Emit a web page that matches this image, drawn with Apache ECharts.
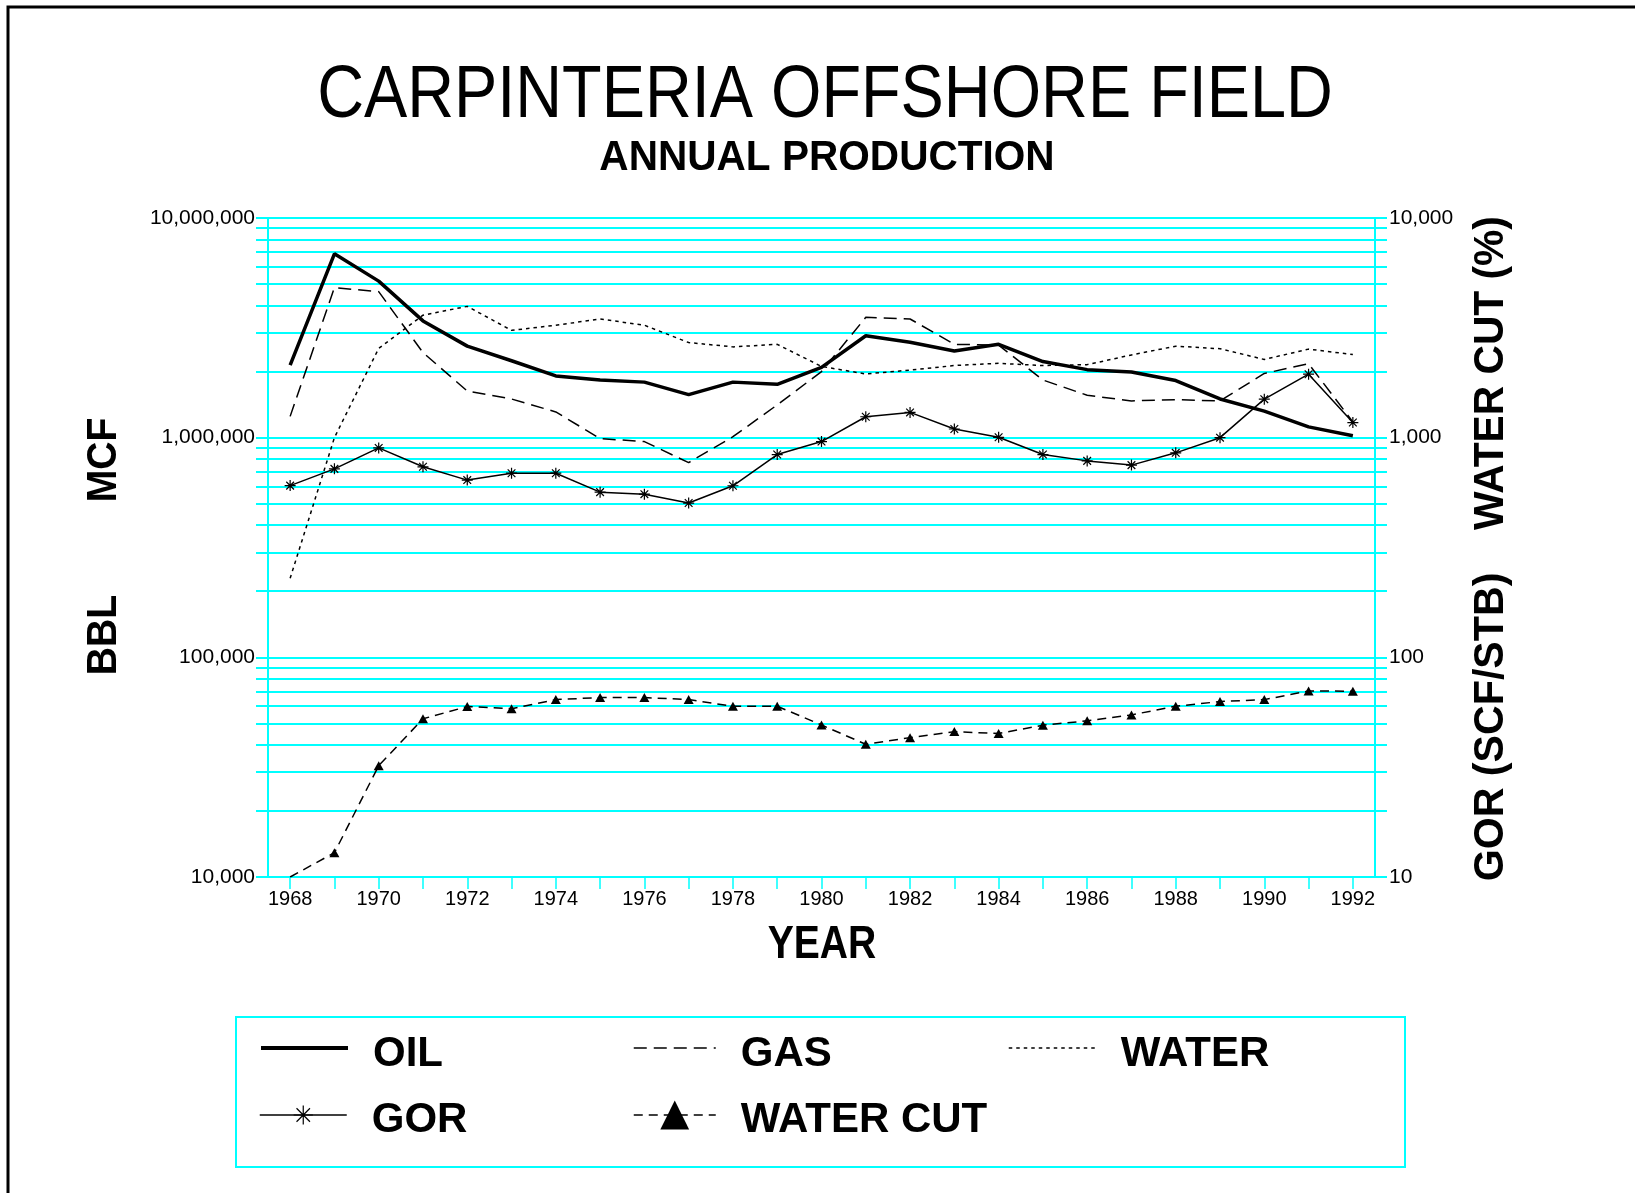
<!DOCTYPE html>
<html>
<head>
<meta charset="utf-8">
<script src="https://cdn.jsdelivr.net/npm/echarts@6/dist/echarts.min.js"></script>
<style>
html,body{margin:0;padding:0;background:#fff;}
#chart{width:1635px;height:1193px;}
</style>
</head>
<body>
<div id="chart"></div>
<script>
// ---- data ----
const years = ['1968','1969','1970','1971','1972','1973','1974','1975','1976','1977','1978','1979','1980',
               '1981','1982','1983','1984','1985','1986','1987','1988','1989','1990','1991','1992'];
// BBL
const oil = [2140000, 6870000, 5160000, 3400000, 2610000, 2240000, 1910000, 1830000, 1790000, 1570000, 1790000, 1750000, 2090000,
             2910000, 2720000, 2480000, 2660000, 2220000, 2040000, 1990000, 1820000, 1500000, 1320000, 1120000, 1020000];
// MCF
const gas = [1250000, 4820000, 4620000, 2440000, 1630000, 1500000, 1310000, 990000, 960000, 770000, 1010000, 1410000, 2000000,
             3530000, 3470000, 2660000, 2640000, 1830000, 1560000, 1470000, 1490000, 1470000, 1960000, 2170000, 1180000];
// BBL
const water = [229000, 1000000, 2550000, 3610000, 3960000, 3080000, 3250000, 3470000, 3250000, 2710000, 2590000, 2660000, 2110000,
               1950000, 2030000, 2130000, 2180000, 2130000, 2150000, 2380000, 2610000, 2540000, 2270000, 2530000, 2390000];
// SCF/STB
const gor = [605, 721, 898, 737, 641, 689, 689, 565, 553, 504, 604, 838, 960,
             1245, 1303, 1095, 1004, 838, 784, 750, 853, 1000, 1497, 1945, 1172];
// %
const waterCut = [10.0, 12.9, 32.1, 52.5, 59.7, 58.4, 64.2, 65.6, 65.6, 64.2, 59.9, 59.9, 49.2,
                  40.2, 43.1, 45.9, 45.0, 49.1, 51.4, 54.7, 59.9, 62.9, 64.2, 70.3, 70.1];
const leftLabels = [10000, 100000, 1000000, 10000000];
const rightLabels = [10, 100, 1000, 10000];

// ---- helpers ----
function logGrid(lo, hi) {
  const out = [];
  for (let d = lo; d < hi; d *= 10) for (let m = 1; m <= 9; m++) out.push(d * m);
  out.push(hi);
  return out;
}
const fmt = v => Math.round(v).toLocaleString('en-US');
const CYAN = '#00FFFF';
const FONT = '"Liberation Sans", Arial, sans-serif';

const asterisk = 'path://M10,0L10,20M0,10L20,10M3,3L17,17M3,17L17,3';

const chart = echarts.init(document.getElementById('chart'), null, {renderer: 'canvas'});

// legend label: a small spacer line above the name pushes the name a few px below the icon's centre
const legendText = (sp) => ({
  fontFamily: FONT, fontSize: 42, fontWeight: 'bold', color: '#000', padding: [0, 0, 0, 20],
  rich: {
    s: {fontSize: 2, lineHeight: sp, height: sp},
    t: {fontFamily: FONT, fontSize: 42, fontWeight: 'bold', color: '#000', lineHeight: 42}
  }
});
const legendFmt = name => '{s|\u00a0}\n{t|' + name + '}';
const noSymbol = {opacity: 0, borderWidth: 0};

const option = {
  animation: false,
  backgroundColor: '#fff',
  grid: {left: 268, right: 260, top: 218, bottom: 316, containLabel: false},
  xAxis: {
    type: 'category', data: years, boundaryGap: true,
    axisLine: {show: true, lineStyle: {color: CYAN, width: 2}},
    axisTick: {show: true, alignWithLabel: true, interval: 0, length: 12, lineStyle: {color: CYAN, width: 1.5}},
    axisLabel: {interval: 1, color: '#000', fontFamily: FONT, fontSize: 20, margin: 12},
    splitLine: {show: false}
  },
  yAxis: [
    {
      type: 'log', logBase: 10, min: 10000, max: 10000000, position: 'left',
      axisLine: {show: true, lineStyle: {color: CYAN, width: 2}},
      axisTick: {show: true, inside: false, length: 12, customValues: logGrid(10000, 10000000), lineStyle: {color: CYAN, width: 2}},
      axisLabel: {customValues: leftLabels, formatter: fmt, color: '#000', fontFamily: FONT, fontSize: 21, margin: 13},
      splitLine: {show: true, lineStyle: {color: CYAN, width: 2}},
      minorTick: {show: false}, minorSplitLine: {show: false}
    },
    {
      type: 'log', logBase: 10, min: 10, max: 10000, position: 'right',
      axisLine: {show: true, lineStyle: {color: CYAN, width: 2}},
      axisTick: {show: true, inside: false, length: 12, customValues: logGrid(10, 10000), lineStyle: {color: CYAN, width: 2}},
      axisLabel: {customValues: rightLabels, formatter: fmt, color: '#000', fontFamily: FONT, fontSize: 21, margin: 14},
      splitLine: {show: false}
    }
  ],
  legend: [
    {data: ['OIL'], left: 259, top: 1021, itemWidth: 87, itemHeight: 20, selectedMode: false, padding: 0,
     formatter: legendFmt, textStyle: legendText(12), itemStyle: noSymbol, lineStyle: {width: 4}},
    {data: ['GAS'], left: 633, top: 1021, itemWidth: 82, itemHeight: 20, selectedMode: false, padding: 0,
     formatter: legendFmt, textStyle: legendText(12), itemStyle: noSymbol, lineStyle: {width: 1.5}},
    {data: ['WATER'], left: 1008, top: 1021, itemWidth: 87, itemHeight: 20, selectedMode: false, padding: 0,
     formatter: legendFmt, textStyle: legendText(12), itemStyle: noSymbol, lineStyle: {width: 1.5}},
    {data: ['GOR'], left: 259, top: 1089, itemWidth: 87, itemHeight: 24, selectedMode: false, padding: 0,
     formatter: legendFmt, textStyle: legendText(10), itemStyle: {borderWidth: 1.2}, lineStyle: {width: 1.5}},
    {data: ['WATER CUT'], left: 633, top: 1089, itemWidth: 82, itemHeight: 36, selectedMode: false, padding: 0,
     formatter: legendFmt, textStyle: legendText(10), lineStyle: {width: 1.5}}
  ],
  series: [
    {name: 'OIL', type: 'line', yAxisIndex: 0, data: oil, symbol: 'none', silent: true,
     lineStyle: {color: '#000', width: 3.5}, itemStyle: {color: '#000'}, z: 5},
    {name: 'GAS', type: 'line', yAxisIndex: 0, data: gas, symbol: 'none', silent: true,
     lineStyle: {color: '#000', width: 1.5, type: [13, 7]}, itemStyle: {color: '#000'}, z: 4},
    {name: 'WATER', type: 'line', yAxisIndex: 0, data: water, symbol: 'none', silent: true,
     lineStyle: {color: '#000', width: 1.5, type: [3.5, 4]}, itemStyle: {color: '#000'}, z: 4},
    {name: 'GOR', type: 'line', yAxisIndex: 1, data: gor, symbol: asterisk, symbolSize: 11, silent: true,
     lineStyle: {color: '#000', width: 1.5}, itemStyle: {color: '#000', borderColor: '#000', borderWidth: 1.2}, z: 6},
    {name: 'WATER CUT', type: 'line', yAxisIndex: 1, silent: true,
     data: waterCut.map((v, i) => i === 0 ? {value: v, symbol: 'none'} : v),
     symbol: 'triangle', symbolSize: [10, 9],
     lineStyle: {color: '#000', width: 1.5, type: [9, 6]}, itemStyle: {color: '#000'}, z: 6}
  ],
  graphic: [
    {type: 'rect', shape: {x: 8, y: 7, width: 1700, height: 1300}, style: {fill: 'none', stroke: '#000', lineWidth: 3}, silent: true},
    {type: 'text', x: 825, y: 97, scaleX: 0.876, style: {text: 'CARPINTERIA OFFSHORE FIELD', fontFamily: FONT, fontSize: 74,
      fill: '#000', textAlign: 'center', textVerticalAlign: 'middle'}},
    {type: 'text', x: 827, y: 158, scaleX: 0.966, style: {text: 'ANNUAL PRODUCTION', fontFamily: FONT, fontSize: 42, fontWeight: 'bold',
      fill: '#000', textAlign: 'center', textVerticalAlign: 'middle'}},
    {type: 'text', x: 822, y: 945, scaleX: 0.85, style: {text: 'YEAR', fontFamily: FONT, fontSize: 46, fontWeight: 'bold',
      fill: '#000', textAlign: 'center', textVerticalAlign: 'middle'}},
    {type: 'text', x: 104, y: 460, rotation: Math.PI / 2, scaleX: 0.93, style: {text: 'MCF', fontFamily: FONT, fontSize: 42, fontWeight: 'bold',
      fill: '#000', textAlign: 'center', textVerticalAlign: 'middle'}},
    {type: 'text', x: 104, y: 635, rotation: Math.PI / 2, scaleX: 0.93, style: {text: 'BBL', fontFamily: FONT, fontSize: 42, fontWeight: 'bold',
      fill: '#000', textAlign: 'center', textVerticalAlign: 'middle'}},
    {type: 'text', x: 1491, y: 373, rotation: Math.PI / 2, scaleX: 0.97, style: {text: 'WATER CUT (%)', fontFamily: FONT, fontSize: 42, fontWeight: 'bold',
      fill: '#000', textAlign: 'center', textVerticalAlign: 'middle'}},
    {type: 'text', x: 1491, y: 727, rotation: Math.PI / 2, scaleX: 0.98, style: {text: 'GOR (SCF/STB)', fontFamily: FONT, fontSize: 42, fontWeight: 'bold',
      fill: '#000', textAlign: 'center', textVerticalAlign: 'middle'}},
    {type: 'rect', shape: {x: 236, y: 1017, width: 1169, height: 150}, style: {fill: 'none', stroke: CYAN, lineWidth: 2}, silent: true}
  ]
};
chart.setOption(option);
</script>
</body>
</html>
